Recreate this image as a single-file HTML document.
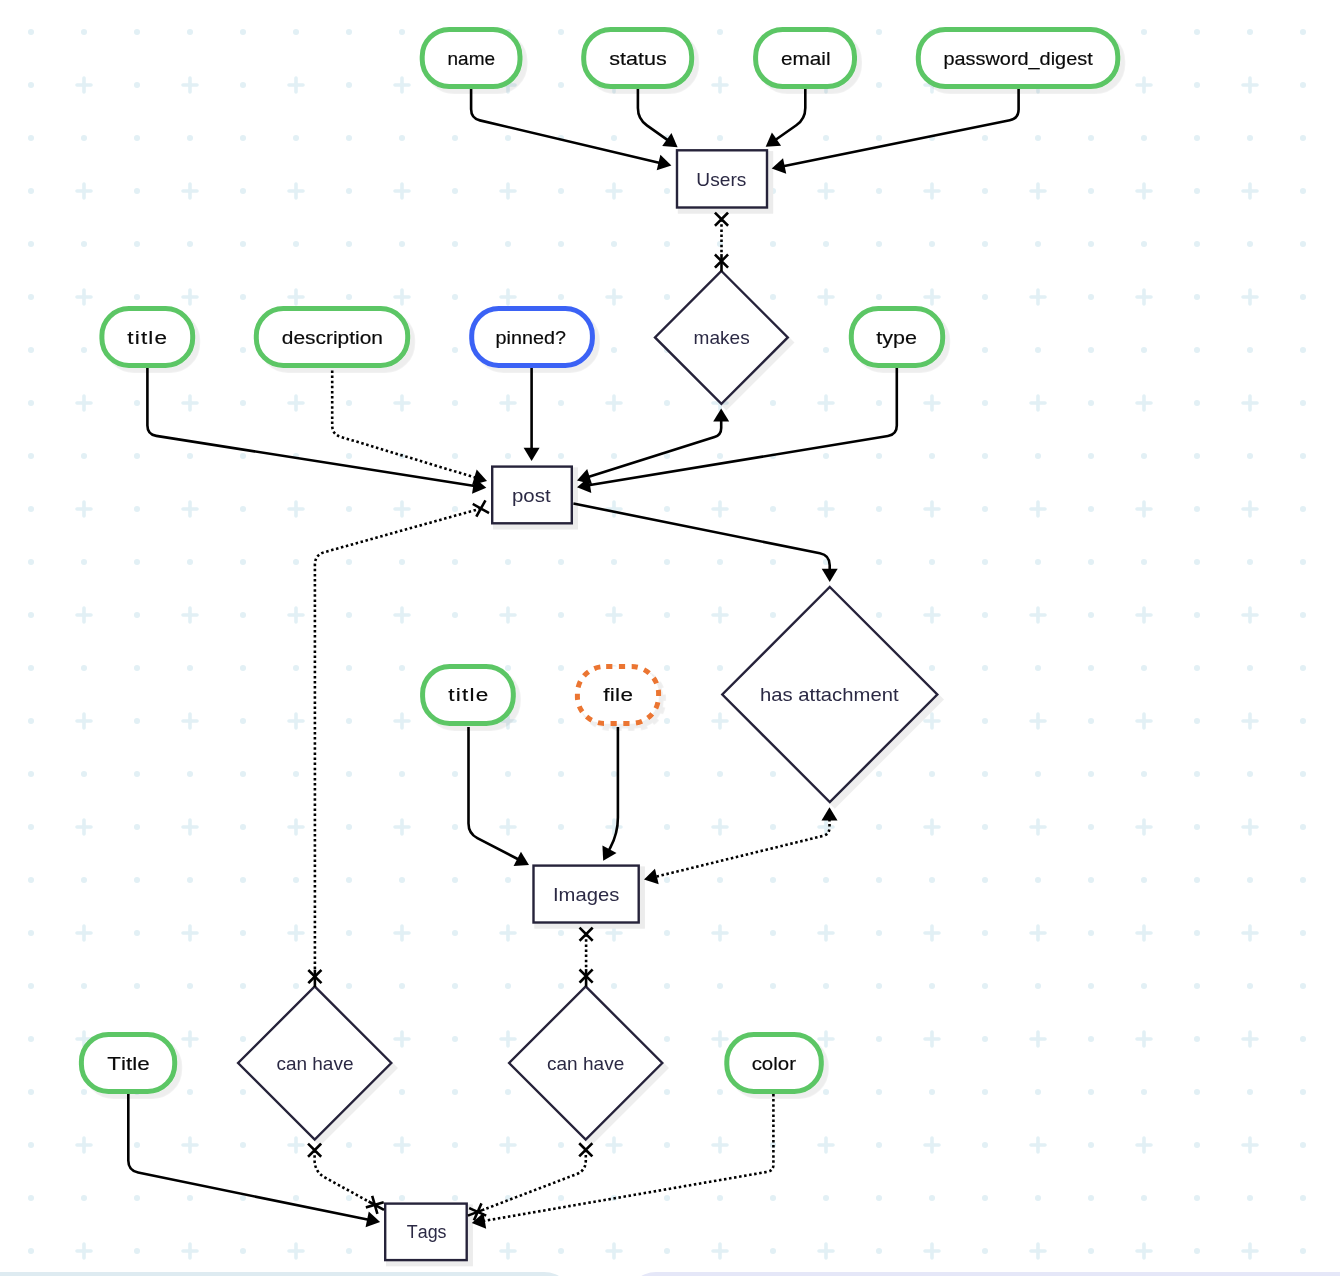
<!DOCTYPE html><html><head><meta charset="utf-8"><style>html,body{margin:0;padding:0;background:#fff;}body{width:1340px;height:1276px;overflow:hidden;position:relative;}svg{position:absolute;left:0;top:0;display:block}</style></head><body>
<svg width="1340" height="1276" viewBox="0 0 1340 1276">
<defs>
<pattern id="g" patternUnits="userSpaceOnUse" x="0" y="0" width="106" height="106"><circle cx="31" cy="32" r="3.05" fill="#e2f0f5"/><circle cx="84" cy="32" r="3.05" fill="#e2f0f5"/><circle cx="31" cy="85" r="3.05" fill="#e2f0f5"/><path d="M77 85H91M84 78V92" stroke="#e2f0f5" stroke-width="3.6" stroke-linecap="round"/></pattern>
<filter id="sh" x="-20%" y="-20%" width="140%" height="140%"><feDropShadow dx="5" dy="5" stdDeviation="0.6" flood-color="#000" flood-opacity="0.066"/></filter>
<filter id="shp" x="-20%" y="-20%" width="140%" height="140%"><feDropShadow dx="4.8" dy="4.8" stdDeviation="0.5" flood-color="#000" flood-opacity="0.068"/></filter>
<filter id="blur1" x="-20%" y="-20%" width="140%" height="140%"><feGaussianBlur stdDeviation="0.6"/></filter>
</defs>
<rect width="1340" height="1276" fill="#fff"/>
<rect width="1340" height="1276" fill="url(#g)"/>
<rect x="-40" y="1272" width="614" height="80" rx="30" fill="#deebf1"/>
<rect x="627" y="1272" width="780" height="80" rx="29" fill="#e5e7f8"/>
<rect x="422.2" y="29.4" width="97.8" height="57.15" rx="27" fill="#fff" stroke="#5cc665" stroke-width="5" filter="url(#shp)"/>
<rect x="583.7" y="29.4" width="108" height="57.15" rx="27" fill="#fff" stroke="#5cc665" stroke-width="5" filter="url(#shp)"/>
<rect x="755.6" y="29.4" width="98.9" height="57.15" rx="27" fill="#fff" stroke="#5cc665" stroke-width="5" filter="url(#shp)"/>
<rect x="918.3" y="29.4" width="199.5" height="57.15" rx="27" fill="#fff" stroke="#5cc665" stroke-width="5" filter="url(#shp)"/>
<rect x="101.9" y="308.6" width="90.8" height="56.8" rx="27" fill="#fff" stroke="#5cc665" stroke-width="5" filter="url(#shp)"/>
<rect x="256.3" y="308.6" width="151.4" height="56.8" rx="27" fill="#fff" stroke="#5cc665" stroke-width="5" filter="url(#shp)"/>
<rect x="471.7" y="308.6" width="120.7" height="56.8" rx="27" fill="#fff" stroke="#3b62f5" stroke-width="5" filter="url(#shp)"/>
<rect x="851.3" y="308.6" width="91.4" height="56.8" rx="27" fill="#fff" stroke="#5cc665" stroke-width="5" filter="url(#shp)"/>
<rect x="422.6" y="666.6" width="90.7" height="56.8" rx="27" fill="#fff" stroke="#5cc665" stroke-width="5" filter="url(#shp)"/>
<rect x="577.4" y="666.6" width="81.2" height="56.8" rx="27" fill="#fff" stroke="#eb7530" stroke-width="5" filter="url(#shp)" stroke-dasharray="6.2 6.56" stroke-dashoffset="11.0"/>
<rect x="81.4" y="1034.5" width="93.3" height="57" rx="27" fill="#fff" stroke="#5cc665" stroke-width="5" filter="url(#shp)"/>
<rect x="726.8" y="1034.5" width="94.5" height="57" rx="27" fill="#fff" stroke="#5cc665" stroke-width="5" filter="url(#shp)"/>
<rect x="677.8" y="151.1" width="95.4" height="62.6" fill="#ececec" filter="url(#blur1)"/>
<rect x="677" y="150.3" width="90" height="57.2" fill="#fff" stroke="#26233a" stroke-width="2.4"/>
<rect x="493" y="467.4" width="85" height="62.1" fill="#ececec" filter="url(#blur1)"/>
<rect x="492.2" y="466.6" width="79.6" height="56.7" fill="#fff" stroke="#26233a" stroke-width="2.4"/>
<rect x="534.3" y="866.4" width="110.6" height="62.3" fill="#ececec" filter="url(#blur1)"/>
<rect x="533.5" y="865.6" width="105.2" height="56.9" fill="#fff" stroke="#26233a" stroke-width="2.4"/>
<rect x="386" y="1204.4" width="86.9" height="61.9" fill="#ececec" filter="url(#blur1)"/>
<rect x="385.2" y="1203.6" width="81.5" height="56.5" fill="#fff" stroke="#26233a" stroke-width="2.4"/>
<path d="M721.4 271 L787.8 337.4 L721.4 403.8 L655 337.4 Z" fill="#fff" stroke="#26233a" stroke-width="2.4" filter="url(#sh)"/>
<path d="M829.8 587 L937.3 694.5 L829.8 802 L722.3 694.5 Z" fill="#fff" stroke="#26233a" stroke-width="2.4" filter="url(#sh)"/>
<path d="M314.7 986.4 L391.3 1063 L314.7 1139.6 L238.1 1063 Z" fill="#fff" stroke="#26233a" stroke-width="2.4" filter="url(#sh)"/>
<path d="M585.7 986.4 L662.3 1063 L585.7 1139.6 L509.1 1063 Z" fill="#fff" stroke="#26233a" stroke-width="2.4" filter="url(#sh)"/>
<path d="M471.1 89 L471.1 109.3 Q471.1 118.3 479.86 120.37 L660.01 162.91" stroke="#000" stroke-width="2.6" fill="none"/>
<path d="M671.4 165.6 L656.71 170.35 L660.39 154.78 Z" fill="#000"/>
<path d="M637.9 89 L637.9 108 Q637.9 119 646.87 125.37 L668.06 140.42" stroke="#000" stroke-width="2.6" fill="none"/>
<path d="M677.6 147.2 L662.21 146.08 L671.47 133.03 Z" fill="#000"/>
<path d="M805.3 89 L805.3 108 Q805.3 119 796.29 125.31 L775.29 139.99" stroke="#000" stroke-width="2.6" fill="none"/>
<path d="M765.7 146.7 L771.93 132.58 L781.1 145.69 Z" fill="#000"/>
<path d="M1018.6 89 L1018.6 109.4 Q1018.6 118.4 1009.78 120.19 L783.17 166.27" stroke="#000" stroke-width="2.6" fill="none"/>
<path d="M771.7 168.6 L783.04 158.13 L786.23 173.81 Z" fill="#000"/>
<path d="M721.5 219.2 L721.5 255.1" stroke="#000" stroke-width="2.6" fill="none" stroke-dasharray="2.5 2.6"/>
<path d="M727.16 255.44 L715.84 266.76 M715.84 255.44 L727.16 266.76" stroke="#000" stroke-width="2.6" fill="none" stroke-linecap="square"/>
<path d="M721.5 254.1 L721.5 271.6" stroke="#000" stroke-width="2.6" fill="none"/>
<path d="M715.84 224.86 L727.16 213.54 M727.16 224.86 L715.84 213.54" stroke="#000" stroke-width="2.6" fill="none" stroke-linecap="square"/>
<path d="M147.4 368 L147.4 425.5 Q147.4 434.5 156.29 435.9 L474.74 485.98" stroke="#000" stroke-width="2.6" fill="none"/>
<path d="M486.3 487.8 L472.02 493.65 L474.5 477.85 Z" fill="#000"/>
<path d="M332.2 370.5 L332.2 425.3 Q332.2 434.3 340.81 436.9 L475.8 477.71" stroke="#000" stroke-width="2.6" fill="none" stroke-dasharray="2.5 2.6"/>
<path d="M487 481.1 L472.05 484.94 L476.68 469.62 Z" fill="#000"/>
<path d="M531.6 368 L531.6 449.3" stroke="#000" stroke-width="2.6" fill="none"/>
<path d="M531.6 461 L523.6 447.8 L539.6 447.8 Z" fill="#000"/>
<path d="M721.2 420.1 L721.2 428 Q721.2 435 714.52 437.11 L588.16 476.98" stroke="#000" stroke-width="2.6" fill="none"/>
<path d="M577 480.5 L587.18 468.9 L592 484.16 Z" fill="#000"/>
<path d="M721.2 408.4 L729.2 421.6 L713.2 421.6 Z" fill="#000"/>
<path d="M896.8 368 L896.8 425.6 Q896.8 434.6 887.92 436.06 L588.54 485.3" stroke="#000" stroke-width="2.6" fill="none"/>
<path d="M577 487.2 L588.73 477.16 L591.32 492.95 Z" fill="#000"/>
<path d="M573.4 503.5 L819.9 553.32 Q829.7 555.3 829.7 565.3 L829.7 570.2" stroke="#000" stroke-width="2.6" fill="none"/>
<path d="M829.7 581.9 L821.7 568.7 L837.7 568.7 Z" fill="#000"/>
<path d="M480.89 508.52 L324.53 552.11 Q314.9 554.8 314.9 564.8 L314.9 970.6" stroke="#000" stroke-width="2.6" fill="none" stroke-dasharray="2.5 2.6"/>
<path d="M320.56 970.94 L309.24 982.26 M309.24 970.94 L320.56 982.26" stroke="#000" stroke-width="2.6" fill="none" stroke-linecap="square"/>
<path d="M314.9 969.6 L314.9 987.1" stroke="#000" stroke-width="2.6" fill="none"/>
<path d="M473.92 504.59 L487.85 512.45 M476.96 515.49 L484.82 501.55" stroke="#000" stroke-width="2.6" fill="none" stroke-linecap="square"/>
<path d="M468.5 727 L468.5 823.6 Q468.5 833.6 477.38 838.2 L518.61 859.52" stroke="#000" stroke-width="2.6" fill="none"/>
<path d="M529 864.9 L513.6 865.94 L520.95 851.73 Z" fill="#000"/>
<path d="M617.9 727 L617.9 817.5 Q617.9 833.5 610.31 847.59 L608.75 850.5" stroke="#000" stroke-width="2.6" fill="none"/>
<path d="M603.2 860.8 L602.41 845.38 L616.5 852.97 Z" fill="#000"/>
<path d="M829.5 819 L829.5 827.3 Q829.5 834.3 822.7 835.96 L655.37 876.82" stroke="#000" stroke-width="2.6" fill="none" stroke-dasharray="2.5 2.6"/>
<path d="M644 879.6 L654.93 868.7 L658.72 884.24 Z" fill="#000"/>
<path d="M829.5 807.3 L837.5 820.5 L821.5 820.5 Z" fill="#000"/>
<path d="M586.1 934.2 L586.1 970.1" stroke="#000" stroke-width="2.6" fill="none" stroke-dasharray="2.5 2.6"/>
<path d="M591.76 970.44 L580.44 981.76 M580.44 970.44 L591.76 981.76" stroke="#000" stroke-width="2.6" fill="none" stroke-linecap="square"/>
<path d="M586.1 969.1 L586.1 986.6" stroke="#000" stroke-width="2.6" fill="none"/>
<path d="M580.44 939.86 L591.76 928.54 M591.76 939.86 L580.44 928.54" stroke="#000" stroke-width="2.6" fill="none" stroke-linecap="square"/>
<path d="M128.3 1094 L128.3 1160.6 Q128.3 1170.6 138.1 1172.6 L368.64 1219.76" stroke="#000" stroke-width="2.6" fill="none"/>
<path d="M380.1 1222.1 L365.56 1227.29 L368.77 1211.62 Z" fill="#000"/>
<path d="M314.6 1150.2 L314.6 1159.9 Q314.6 1171.9 325.13 1177.66 L369.53 1201.98" stroke="#000" stroke-width="2.6" fill="none" stroke-dasharray="2.5 2.6"/>
<path d="M372.55 1197.18 L377.04 1212.54 M367.11 1207.1 L382.47 1202.61" stroke="#000" stroke-width="2.6" fill="none" stroke-linecap="square"/>
<path d="M368.65 1201.5 L384 1209.9" stroke="#000" stroke-width="2.6" fill="none"/>
<path d="M308.94 1155.86 L320.26 1144.54 M320.26 1155.86 L308.94 1144.54" stroke="#000" stroke-width="2.6" fill="none" stroke-linecap="square"/>
<path d="M585.8 1149.8 L585.8 1160.6 Q585.8 1170.6 576.46 1174.17 L483.32 1209.72" stroke="#000" stroke-width="2.6" fill="none" stroke-dasharray="2.5 2.6"/>
<path d="M485.01 1215.12 L470.41 1208.59 M480.98 1204.55 L474.44 1219.16" stroke="#000" stroke-width="2.6" fill="none" stroke-linecap="square"/>
<path d="M484.25 1209.36 L467.9 1215.6" stroke="#000" stroke-width="2.6" fill="none"/>
<path d="M580.14 1155.46 L591.46 1144.14 M591.46 1155.46 L580.14 1144.14" stroke="#000" stroke-width="2.6" fill="none" stroke-linecap="square"/>
<path d="M773.4 1094 L773.4 1164.8 Q773.4 1170.8 767.49 1171.82 L483.33 1221" stroke="#000" stroke-width="2.6" fill="none" stroke-dasharray="2.5 2.6"/>
<path d="M471.8 1223 L483.44 1212.87 L486.17 1228.63 Z" fill="#000"/>
</svg>
<svg width="1340" height="1276" viewBox="0 0 1340 1276" style="will-change:transform">
<text transform="scale(1.0550,1)" x="424.19 434.2 444.21 459.2" y="64.9" fill="#0a0a0a" style="font-family:'Liberation Sans',sans-serif;font-size:18px;stroke:#0a0a0a;stroke-width:0.19px">name</text>
<text transform="scale(1.1973,1)" x="508.85 517.85 522.85 532.86 537.87 547.88" y="64.9" fill="#0a0a0a" style="font-family:'Liberation Sans',sans-serif;font-size:18px;stroke:#0a0a0a;stroke-width:0.17px">status</text>
<text transform="scale(1.1500,1)" x="679.17 689.18 704.18 714.19 718.19" y="64.9" fill="#0a0a0a" style="font-family:'Liberation Sans',sans-serif;font-size:18px;stroke:#0a0a0a;stroke-width:0.17px">email</text>
<text transform="scale(1.1040,1)" x="854.64 864.65 874.66 883.66 892.66 905.66 915.67 921.67 931.68 941.69 951.7 955.7 965.71 975.72 984.72" y="64.9" fill="#0a0a0a" style="font-family:'Liberation Sans',sans-serif;font-size:18px;stroke:#0a0a0a;stroke-width:0.18px">password_digest</text>
<text transform="scale(1.2500,1)" x="101.81 107.77 112.74 118.7 123.67" y="343.7" fill="#0a0a0a" style="font-family:'Liberation Sans',sans-serif;font-size:18px;stroke:#0a0a0a;stroke-width:0.16px">title</text>
<text transform="scale(1.1619,1)" x="242.56 252.57 262.58 271.58 280.58 286.58 290.58 300.59 305.59 309.59 319.6" y="343.7" fill="#0a0a0a" style="font-family:'Liberation Sans',sans-serif;font-size:18px;stroke:#0a0a0a;stroke-width:0.17px">description</text>
<text transform="scale(1.0974,1)" x="451.62 461.63 465.63 475.64 485.65 495.66 505.67" y="343.7" fill="#0a0a0a" style="font-family:'Liberation Sans',sans-serif;font-size:18px;stroke:#0a0a0a;stroke-width:0.18px">pinned?</text>
<text transform="scale(1.1957,1)" x="732.91 737.91 746.91 756.92" y="343.7" fill="#0a0a0a" style="font-family:'Liberation Sans',sans-serif;font-size:18px;stroke:#0a0a0a;stroke-width:0.17px">type</text>
<text transform="scale(1.2500,1)" x="358.69 364.65 369.62 375.58 380.55" y="700.8" fill="#0a0a0a" style="font-family:'Liberation Sans',sans-serif;font-size:18px;stroke:#0a0a0a;stroke-width:0.16px">title</text>
<text transform="scale(1.2500,1)" x="482.63 487.85 492.08 496.31" y="700.8" fill="#0a0a0a" style="font-family:'Liberation Sans',sans-serif;font-size:18px;stroke:#0a0a0a;stroke-width:0.16px">file</text>
<text transform="scale(1.2439,1)" x="86.26 97.26 101.25 106.26 110.25" y="1069.7" fill="#0a0a0a" style="font-family:'Liberation Sans',sans-serif;font-size:18px;stroke:#0a0a0a;stroke-width:0.16px">Title</text>
<text transform="scale(1.1357,1)" x="661.84 670.84 680.85 684.85 694.86" y="1069.7" fill="#0a0a0a" style="font-family:'Liberation Sans',sans-serif;font-size:18px;stroke:#0a0a0a;stroke-width:0.18px">color</text>
<text transform="scale(1.0631,1)" x="655.02 668.02 677.02 687.03 693.03" y="185.9" fill="#2b2944" style="font-family:'Liberation Sans',sans-serif;font-size:18px">Users</text>
<text transform="scale(1.1366,1)" x="450.38 460.39 470.4 479.4" y="501.7" fill="#2b2944" style="font-family:'Liberation Sans',sans-serif;font-size:18px">post</text>
<text transform="scale(1.1231,1)" x="492.4 497.4 512.39 522.4 532.42 542.43" y="901.1" fill="#2b2944" style="font-family:'Liberation Sans',sans-serif;font-size:18px">Images</text>
<text transform="scale(0.9933,1)" x="409.55 420.55 430.56 440.57" y="1237.8" fill="#2b2944" style="font-family:'Liberation Sans',sans-serif;font-size:18px">Tags</text>
<text transform="scale(1.0592,1)" x="654.76 669.76 679.77 688.77 698.78" y="344" fill="#2b2944" style="font-family:'Liberation Sans',sans-serif;font-size:18px">makes</text>
<text transform="scale(1.1258,1)" x="675.08 685.09 695.1 704.1 709.11 719.12 724.12 729.12 739.13 748.13 758.14 773.13 783.14 793.16" y="701.2" fill="#2b2944" style="font-family:'Liberation Sans',sans-serif;font-size:18px">has attachment</text>
<text transform="scale(1.0547,1)" x="262.06 271.06 281.07 291.08 296.08 306.09 316.11 325.11" y="1070.4" fill="#2b2944" style="font-family:'Liberation Sans',sans-serif;font-size:18px">can have</text>
<text transform="scale(1.0575,1)" x="517.26 526.26 536.27 546.28 551.28 561.29 571.3 580.3" y="1070.4" fill="#2b2944" style="font-family:'Liberation Sans',sans-serif;font-size:18px">can have</text>
</svg></body></html>
